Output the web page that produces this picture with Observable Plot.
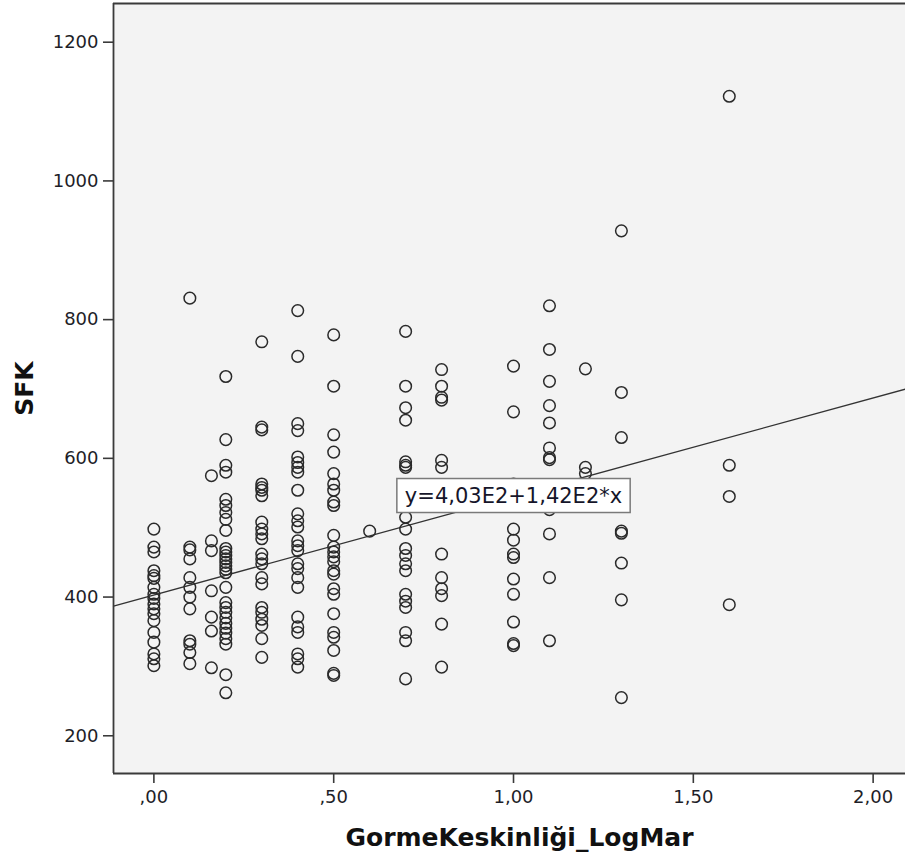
<!DOCTYPE html>
<html><head><meta charset="utf-8">
<script src="https://cdn.jsdelivr.net/npm/d3@7"></script>
<script src="https://cdn.jsdelivr.net/npm/@observablehq/plot@0.6"></script>
<style>body{margin:0;background:#fff} svg{display:block}</style>
</head><body><div id="chart"></div>
<script>
// GormeKeskinliği_LogMar levels (x) and SFK values at each level
const xLevels = [0, 0.1, 0.16, 0.2, 0.3, 0.4, 0.5, 0.6, 0.7, 0.8, 1.0, 1.1, 1.2, 1.3, 1.6];
const sfk_000 = [498, 472, 465, 438, 431, 427, 414, 404, 398, 390, 383, 376, 366, 349, 335, 318, 311, 301];
const sfk_010 = [831, 472, 468, 455, 428, 414, 400, 383, 337, 332, 320, 304];
const sfk_016 = [575, 481, 467, 409, 371, 351, 298];
const sfk_020 = [718, 627, 590, 580, 541, 532, 522, 512, 496, 470, 465, 460, 455, 450, 445, 440, 435, 414, 392, 385, 378, 370, 362, 355, 348, 340, 332, 288, 262];
const sfk_030 = [768, 645, 641, 563, 558, 554, 546, 508, 498, 491, 484, 462, 455, 448, 428, 419, 385, 378, 368, 359, 340, 313];
const sfk_040 = [813, 747, 650, 640, 602, 594, 587, 580, 554, 520, 510, 501, 481, 474, 467, 448, 441, 428, 414, 371, 357, 349, 318, 311, 299];
const sfk_050 = [778, 704, 634, 609, 578, 563, 554, 537, 532, 489, 472, 465, 458, 451, 438, 433, 412, 404, 376, 349, 342, 323, 290, 287];
const sfk_060 = [495];
const sfk_070 = [783, 704, 673, 655, 595, 590, 587, 540, 515, 498, 470, 460, 448, 438, 404, 394, 385, 349, 337, 282];
const sfk_080 = [728, 704, 688, 684, 597, 587, 462, 428, 412, 402, 361, 299];
const sfk_100 = [733, 667, 563, 498, 482, 462, 457, 426, 404, 364, 333, 330];
const sfk_110 = [820, 757, 711, 676, 651, 615, 601, 598, 526, 491, 428, 337];
const sfk_120 = [729, 587, 578];
const sfk_130 = [928, 695, 630, 495, 492, 449, 396, 255];
const sfk_160 = [1122, 590, 545, 389];
const sfkColumns = [sfk_000, sfk_010, sfk_016, sfk_020, sfk_030, sfk_040, sfk_050, sfk_060, sfk_070, sfk_080, sfk_100, sfk_110, sfk_120, sfk_130, sfk_160];

const xTicks = [0, 0.5, 1, 1.5, 2];
const xTickLabels = [",00", ",50", "1,00", "1,50", "2,00"];
const yTicks = [200, 400, 600, 800, 1000, 1200];
const fitIntercept = 403, fitSlope = 142;
const fitLabel = "y=4,03E2+1,42E2*x";
const fitLabelAt = {x: 1.0, y: 546};
const xTitle = "GormeKeskinliği_LogMar";
const yTitle = "SFK";
const xDomain = [-0.1123, 2.090];
const yDomain = [145.6, 1255.8];

const points = xLevels.flatMap((x, i) => sfkColumns[i].map(v => ({x, y: v})));
const fitLine = xDomain.map(x => ({x, y: fitIntercept + fitSlope * x}));
const axisColor = "#3a3a3a";

const plot = Plot.plot({
  width: 905, height: 857,
  marginLeft: 113, marginRight: 0, marginTop: 3, marginBottom: 84,
  style: {fontFamily: "DejaVu Sans", fontSize: "18px", color: "#1e1e28", background: "#fff", overflow: "visible"},
  x: {domain: xDomain, label: null},
  y: {domain: yDomain, label: null},
  marks: [
    Plot.frame({fill: "#f3f3f3", stroke: null}),
    Plot.axisX(xTicks, {tickSize: 10, tickPadding: 7, strokeWidth: 1.6, stroke: axisColor,
      tickFormat: d => xTickLabels[xTicks.indexOf(d)], fontSize: 18, label: null}),
    Plot.axisY(yTicks, {tickSize: 10, tickPadding: 5, strokeWidth: 1.6, stroke: axisColor,
      tickFormat: d => String(d), fontSize: 18, label: null}),
    Plot.line(fitLine, {x: "x", y: "y", stroke: "#333", strokeWidth: 1.3}),
    Plot.dot(points, {x: "x", y: "y", r: 5.8, stroke: "#2a2a2a", strokeWidth: 1.5, fill: "none"}),
    Plot.ruleX([xDomain[0]], {stroke: axisColor, strokeWidth: 1.8}),
    Plot.ruleY([yDomain[0]], {stroke: axisColor, strokeWidth: 1.8}),
    Plot.ruleY([yDomain[1]], {stroke: axisColor, strokeWidth: 1.8}),
    Plot.text([{x: fitLabelAt.x, y: fitLabelAt.y, t: fitLabel}], {x: "x", y: "y", text: "t",
      fontSize: 21, fill: "#15152a", textAnchor: "middle", lineAnchor: "middle", className: "fitlabel"}),
    Plot.text([yTitle], {text: d => d, frameAnchor: "left", dx: -81, rotate: -90, textAnchor: "middle",
      lineAnchor: "bottom", fontSize: 25, fontWeight: "bold", fill: "#111"}),
    Plot.text([xTitle], {text: d => d, frameAnchor: "bottom", dx: 10, dy: 72, textAnchor: "middle",
      lineAnchor: "bottom", fontSize: 25, fontWeight: "bold", fill: "#111"})
  ]
});
document.getElementById("chart").appendChild(plot);

// white box behind the regression label
d3.select(plot).selectAll("g.fitlabel text").each(function() {
  const bb = this.getBBox();
  const padX = 8, padY = 5;
  d3.select(this.parentNode).insert("rect", () => this)
    .attr("transform", this.getAttribute("transform"))
    .attr("x", bb.x - padX).attr("y", bb.y - padY)
    .attr("width", bb.width + 2 * padX).attr("height", bb.height + 2 * padY)
    .attr("fill", "#fff").attr("stroke", "#7a7a7a").attr("stroke-width", 1.5);
});
</script></body></html>
